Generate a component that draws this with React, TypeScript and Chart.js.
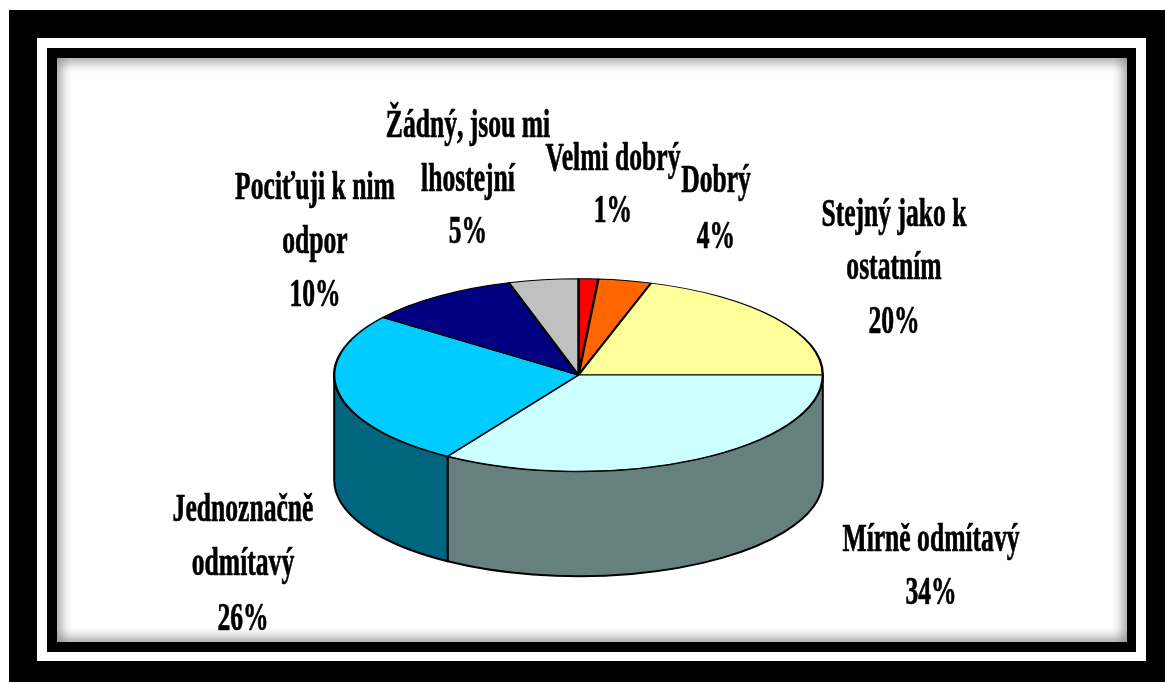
import React, { useEffect, useRef } from "react";
import { Chart, registerables } from "chart.js";

Chart.register(...registerables);

const categories = ["Velmi dobrý", "Dobrý", "Stejný jako k ostatním", "Mírně odmítavý", "Jednoznačně odmítavý", "Pociťuji k nim odpor", "Žádný, jsou mi lhostejní"];
const values = [1.3, 3.5, 20.2, 34, 26.2, 10.2, 4.6];
const topColors = ["#FF0000", "#FF6600", "#FFFF99", "#CCFFFF", "#00CCFF", "#000080", "#C0C0C0"];
const sideColors = ["#800000", "#803300", "#808050", "#668080", "#006680", "#000040", "#606060"];
const labelLines = [
  ["Velmi dobrý", "1%"],
  ["Dobrý", "4%"],
  ["Stejný jako k", "ostatním", "20%"],
  ["Mírně odmítavý", "34%"],
  ["Jednoznačně", "odmítavý", "26%"],
  ["Pociťuji k nim", "odpor", "10%"],
  ["Žádný, jsou mi", "lhostejní", "5%"],
];
const labelCenters = [613, 716, 894, 931, 243, 315, 468];
const labelBaselines = [
  [170, 222],
  [192, 248],
  [226, 279, 333],
  [551, 604],
  [521, 575, 630],
  [199, 253, 306],
  [137, 191, 243],
];

const SQUASH = 0.394;
const DEPTH = 105;

const pie3d = {
  id: "pie3d",
  beforeDraw(chart: any) {
    const { ctx } = chart;
    ctx.save();
    ctx.fillStyle = "#000";
    ctx.fillRect(9, 10, 1156, 672);
    ctx.fillStyle = "#fff";
    ctx.fillRect(37, 38, 1109, 623);
    ctx.fillStyle = "#000";
    ctx.fillRect(47, 48, 1089, 604);
    ctx.fillStyle = "#fff";
    ctx.fillRect(57, 58, 1070, 584);
    ctx.beginPath();
    ctx.rect(57, 58, 1070, 584);
    ctx.clip();
    ctx.shadowColor = "rgba(0,0,0,0.9)";
    ctx.shadowBlur = 14;
    ctx.strokeStyle = "#000";
    ctx.lineWidth = 6;
    ctx.strokeRect(54, 55, 1076, 590);
    ctx.restore();
  },
  beforeDatasetDraw(chart: any) {
    const { ctx } = chart;
    const arcs = chart.getDatasetMeta(0).data;
    ctx.save();
    ctx.lineWidth = 2;
    ctx.strokeStyle = "#000";
    ctx.lineJoin = "round";
    arcs.forEach((arc: any, i: number) => {
      const { x, y, outerRadius: r, startAngle, endAngle } = arc.getProps(["x", "y", "outerRadius", "startAngle", "endAngle"], true);
      const a0 = Math.max(startAngle, 0);
      const a1 = Math.min(endAngle, Math.PI);
      if (a1 <= a0) return;
      ctx.beginPath();
      ctx.ellipse(x, y, r, r * SQUASH, 0, a0, a1);
      ctx.ellipse(x, y + DEPTH, r, r * SQUASH, 0, a1, a0, true);
      ctx.closePath();
      ctx.fillStyle = sideColors[i];
      ctx.fill();
      ctx.stroke();
    });
    ctx.restore();
    const first = arcs[0];
    ctx.save();
    ctx.translate(first.x, first.y);
    ctx.scale(1, SQUASH);
    ctx.translate(-first.x, -first.y);
  },
  afterDatasetDraw(chart: any) {
    chart.ctx.restore();
  },
  afterDraw(chart: any) {
    const { ctx } = chart;
    ctx.save();
    ctx.fillStyle = "#000";
    ctx.strokeStyle = "#000";
    ctx.lineWidth = 0.7;
    ctx.lineJoin = "round";
    ctx.textAlign = "center";
    ctx.textBaseline = "alphabetic";
    ctx.font = 'bold 40px "Liberation Serif"';
    labelLines.forEach((lines, i) => {
      lines.forEach((line, j) => {
        ctx.save();
        ctx.translate(labelCenters[i], labelBaselines[i][j]);
        ctx.scale(0.64, 1);
        ctx.fillText(line, 0, 0);
        ctx.strokeText(line, 0, 0);
        ctx.restore();
      });
    });
    ctx.restore();
  },
};

export default function App() {
  const ref = useRef<HTMLCanvasElement>(null);
  useEffect(() => {
    const chart = new Chart(ref.current!, {
      type: "pie",
      data: {
        labels: categories,
        datasets: [{
          data: values,
          backgroundColor: topColors,
          borderColor: "#000",
          borderWidth: 2.4,
          clip: false,
        } as any],
      },
      options: {
        animation: false,
        responsive: false,
        layout: { padding: { left: 333, right: 341, top: 129.5, bottom: 61.5 } },
        plugins: { legend: { display: false }, tooltip: { enabled: false }, title: { display: false } },
      },
      plugins: [pie3d],
    } as any);
    return () => chart.destroy();
  }, []);
  return (
    <div style={{ position: "fixed", left: 0, top: 0, width: 1165, height: 682, overflow: "hidden", background: "#fff" }}>
      <div style={{ position: "absolute", left: 9, top: 10, right: 0, bottom: 0, background: "#000" }} />
      <canvas ref={ref} width={1165} height={682} style={{ position: "absolute", left: 0, top: 0, display: "block", filter: "blur(0.6px)" }} />
    </div>
  );
}
